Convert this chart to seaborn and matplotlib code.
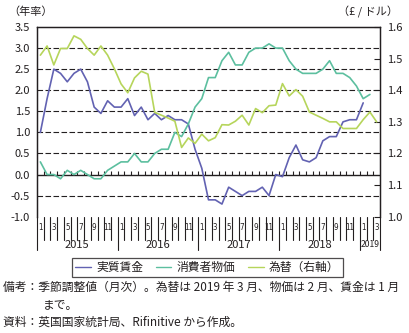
import numpy as np
import pandas as pd
import matplotlib
matplotlib.use("Agg")
import matplotlib.pyplot as plt
import matplotlib.transforms as mtransforms
from matplotlib.lines import Line2D
import seaborn as sns

# ---------------- data ----------------
years = ["2015", "2016", "2017", "2018", "2019"]
n_months = 51  # Jan 2015 .. Mar 2019

wage = [1.0, 1.8, 2.5, 2.4, 2.2, 2.4, 2.5, 2.2, 1.6, 1.45, 1.75, 1.6,
        1.6, 1.8, 1.4, 1.6, 1.3, 1.45, 1.3, 1.4, 1.3, 1.3, 1.2, 0.6,
        0.15, -0.6, -0.6, -0.7, -0.3, -0.4, -0.5, -0.4, -0.4, -0.3, -0.5, 0.0,
        -0.05, 0.4, 0.7, 0.35, 0.3, 0.4, 0.8, 0.9, 0.9, 1.25, 1.3, 1.3,
        1.7]
cpi = [0.3, 0.0, 0.0, -0.1, 0.1, 0.0, 0.1, 0.0, -0.1, -0.1, 0.1, 0.2,
       0.3, 0.3, 0.5, 0.3, 0.3, 0.5, 0.6, 0.6, 1.0, 0.9, 1.2, 1.6,
       1.8, 2.3, 2.3, 2.7, 2.9, 2.6, 2.6, 2.9, 3.0, 3.0, 3.1, 3.0,
       3.0, 2.7, 2.5, 2.4, 2.4, 2.4, 2.5, 2.7, 2.4, 2.4, 2.3, 2.1,
       1.8, 1.9]
fx = [1.511, 1.540, 1.480, 1.532, 1.532, 1.572, 1.561, 1.532, 1.511, 1.540, 1.511, 1.468,
      1.420, 1.392, 1.439, 1.460, 1.451, 1.330, 1.321, 1.312, 1.302, 1.219, 1.249, 1.232,
      1.261, 1.240, 1.250, 1.291, 1.290, 1.302, 1.321, 1.290, 1.342, 1.329, 1.351, 1.353,
      1.421, 1.382, 1.402, 1.381, 1.331, 1.321, 1.311, 1.300, 1.300, 1.279, 1.279, 1.279,
      1.307, 1.331, 1.300]

labels = ["実質賃金", "消費者物価", "為替（右軸）"]
left_ticks = [-1.0, -0.5, 0.0, 0.5, 1.0, 1.5, 2.0, 2.5, 3.0, 3.5]
right_ticks = [1.0, 1.1, 1.2, 1.3, 1.4, 1.5, 1.6]

def pad(v):
    return list(v) + [np.nan] * (n_months - len(v))

df = pd.DataFrame({"m": np.arange(n_months), "wage": pad(wage), "cpi": pad(cpi), "fx": pad(fx)})

# ---------------- style ----------------
sns.set_theme(style="white")
plt.rcParams["font.family"] = ["Noto Sans CJK JP", "DejaVu Sans"]
TXT = "#231f20"
C_WAGE = "#6262b2"
C_CPI = "#5cbf9f"
C_FX = "#b6d55b"

fig = plt.figure(figsize=(4.09, 3.33), dpi=100)
ax = fig.add_axes([37 / 409, 1 - 216.7 / 333, (380 - 37) / 409, (216.7 - 27) / 333])
ax2 = ax.twinx()

sns.lineplot(data=df, x="m", y="wage", ax=ax, color=C_WAGE, lw=1.2, legend=False)
sns.lineplot(data=df, x="m", y="cpi", ax=ax, color=C_CPI, lw=1.2, legend=False)
sns.lineplot(data=df, x="m", y="fx", ax=ax2, color=C_FX, lw=1.2, legend=False)

ax.set_xlim(-0.5, n_months - 0.5)
ax.set_ylim(-1.0, 3.5)
ax2.set_ylim(1.0, 1.6)
ax.set_xlabel("")
ax.set_ylabel("")
ax2.set_ylabel("")
ax.set_xticks([])
ax2.set_xticks([])

ax.set_yticks(left_ticks)
ax.set_yticklabels([f"{v:.1f}" for v in left_ticks], fontsize=8, color=TXT)
ax.tick_params(axis="y", length=0, pad=5)
ax2.set_yticks(right_ticks)
ax2.set_yticklabels([f"{v:.1f}" for v in right_ticks], fontsize=8, color=TXT)
ax2.tick_params(axis="y", direction="in", length=4, width=0.8, color=TXT, pad=5)

for a in (ax, ax2):
    for s in ("left", "right", "top"):
        a.spines[s].set_visible(True)
        a.spines[s].set_color(TXT)
        a.spines[s].set_linewidth(0.9)
    a.spines["bottom"].set_visible(False)
    a.grid(False)
ax2.patch.set_visible(False)

# grid lines
for v in left_ticks:
    if v in (-1.0, 3.5):
        continue
    if v == 0.0:
        ax.axhline(0, color=TXT, lw=1.0, zorder=1)
    else:
        ax.axhline(v, color=TXT, lw=0.8, ls=(0, (5, 2.2)), zorder=1)

# small month ticks on the zero line
ax.vlines(np.arange(n_months - 1) + 0.5, 0, 0.08, color=TXT, lw=0.8, zorder=1)

# category axis below the plot
trans = mtransforms.blended_transform_factory(ax.transData, ax.transAxes)
for b in range(n_months + 1):
    xb = b - 0.5
    long = (b % 12 == 0) or (b == n_months)
    y1 = -0.176 if long else -0.123
    ax.plot([xb, xb], [0, y1], transform=trans, color=TXT, lw=0.8, clip_on=False)
for i in range(n_months):
    if i % 2 == 0:
        ax.text(i, -0.058, str(i % 12 + 1), transform=trans, ha="center", va="center",
                fontsize=5.8, color=TXT, family=["DejaVu Sans"], stretch="condensed")
for k, yl in enumerate(years):
    start = 12 * k
    end = min(12 * (k + 1), n_months)
    xc = (start + end - 1) / 2
    fs = 8 if end - start == 12 else 6.2
    ax.text(xc, -0.147, yl, transform=trans, ha="center", va="center", fontsize=fs, color=TXT)

# legend
handles = [Line2D([0], [0], color=C_WAGE, lw=1.0),
           Line2D([0], [0], color=C_CPI, lw=1.0),
           Line2D([0], [0], color=C_FX, lw=1.0)]
leg = fig.legend(handles, labels, loc="center", bbox_to_anchor=(207.5 / 409, 1 - 267.5 / 333),
                 ncol=3, frameon=True, fancybox=False, fontsize=8.5, handlelength=1.3,
                 handletextpad=0.45, columnspacing=1.1, borderpad=0.25, borderaxespad=0)
leg.get_frame().set_edgecolor(TXT)
leg.get_frame().set_linewidth(0.9)
for t in leg.get_texts():
    t.set_color(TXT)

# header labels
fig.text(8 / 409, 1 - 12 / 333, "（年率）", ha="left", va="center", fontsize=8, color=TXT)
fig.text(398 / 409, 1 - 12 / 333, "（£ / ドル）", ha="right", va="center", fontsize=8, color=TXT)

# notes
fig.text(3 / 409, 1 - 287 / 333, "備考：季節調整値（月次）。為替は 2019 年 3 月、物価は 2 月、賃金は 1 月",
         ha="left", va="center", fontsize=8.5, color=TXT)
fig.text(43 / 409, 1 - 305 / 333, "まで。", ha="left", va="center", fontsize=8.5, color=TXT)
fig.text(3 / 409, 1 - 322 / 333, "資料：英国国家統計局、Rifinitive から作成。",
         ha="left", va="center", fontsize=8.5, color=TXT)

fig.savefig("out.png", dpi=100, facecolor="white")
